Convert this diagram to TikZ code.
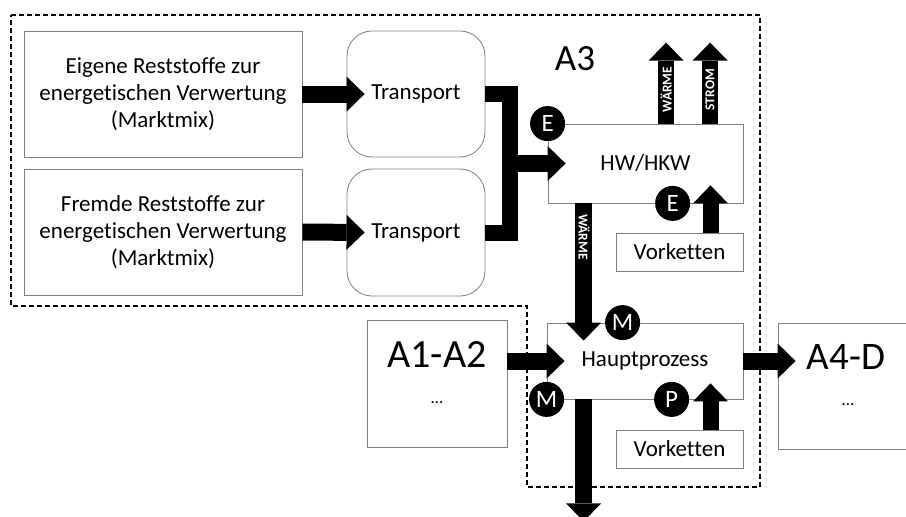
\documentclass[tikz,border=0pt]{standalone}
\usepackage{fontspec}
\setmainfont{Carlito}[Ligatures=NoCommon]
\usetikzlibrary{arrows.meta,calc}
\newcommand\myfs[2]{\fontsize{#1pt}{#2pt}\selectfont}
\definecolor{boxgray}{HTML}{808080}
\tikzset{
  box/.style={draw=boxgray, line width=0.8pt, fill=white, inner sep=0pt, align=center, font=\myfs{23}{27}},
  rbox/.style={box, rounded corners=25pt},
  blk/.style={draw=black, line width=17pt, -{Triangle[length=18pt,width=35pt,line width=0pt]}},
  sblk/.style={blk, line width=16pt},
  lbl/.style={text=white, font=\bfseries\myfs{13.5}{14}, inner sep=0pt},
  circ/.style={circle, fill=black, minimum size=35pt, inner sep=0pt, text=white, font=\myfs{25}{25}},
  zone/.style={draw=black, line width=1.1pt, dash pattern=on 5pt off 3pt},
}
\begin{document}
\begin{tikzpicture}[x=1pt,y=-1pt]
\clip (0,0) rectangle (906,517);
\fill[white] (0,0) rectangle (906,517);
% zone A3
\draw[zone] (11,15) -- (760,15) -- (760,487) -- (527,487) -- (527,306) -- (11,306) -- cycle;
% boxes
\node[box, minimum width=278pt, minimum height=126pt] (b1) at (163,94) {Eigene Reststoffe zur\\energetischen Verwertung\\(Marktmix)};
\node[box, minimum width=278pt, minimum height=126pt] (b2) at (163,232) {Fremde Reststoffe zur\\energetischen Verwertung\\(Marktmix)};
\node[rbox, minimum width=138pt, minimum height=126pt] (t1) at (416,94) {Transport};
\node[rbox, minimum width=138pt, minimum height=127pt] (t2) at (416,232.5) {Transport};
\node[box, minimum width=195pt, minimum height=79pt] (hw) at (645.5,163.5) {HW/HKW};
\node[box, minimum width=127pt, minimum height=38pt] (v1) at (679.5,252) {Vorketten};
\node[box, minimum width=196pt, minimum height=76pt] (hp) at (645,361) {Hauptprozess};
\node[box, minimum width=127pt, minimum height=38pt] (v2) at (679.5,449) {Vorketten};
\node[box, minimum width=140pt, minimum height=127pt] (a12) at (437,383.5) {};
\node[box, minimum width=140pt, minimum height=126pt] (a4d) at (848,386) {};
\node[font=\myfs{40}{40}, inner sep=0pt] (a12t) at (437,355) {A1-A2};
\node[font=\myfs{17}{17}, inner sep=0pt] (a12d) at (437,403) {…};
\node[font=\myfs{39}{39}, inner sep=0pt] (a4dt) at (846,357) {A4-D};
\node[font=\myfs{17}{17}, inner sep=0pt] (a4dd) at (848,405) {…};
\node[font=\myfs{37}{37}, inner sep=0pt] (a3) at (575,59) {A3};
% arrows
\draw[blk] (b1.east) -- ($(t1.west)+(18,0)$);
\draw[blk] (b2.east) -- ($(t2.west)+(18,0)$);
\coordinate (j1) at (509.5,94);
\coordinate (j2) at (509.5,163.5);
\draw[draw=black, line width=16pt, line join=miter] (t1.east) -- (j1) |- (t2.east);
\draw[blk] (j2) -- ($(hw.west)+(18,0)$);
\draw[sblk] ($(hw.north west)+(118.5,0)$) -- ++(0,-81);
\draw[sblk] ($(hw.north west)+(162.5,0)$) -- ++(0,-81);
\draw[sblk] ($(v1.north)+(31,0)$) -- ($(v1.north |- hw.south)+(31,-18)$);
\draw[blk] ($(hw.south west)+(36,0)$) -- ($(hw.south west |- hp.north)+(36,18)$);
\draw[blk] (a12.east |- hp.west) -- ($(hp.west)+(18,0)$);
\draw[blk] (hp.east) -- ($(a4d.west |- hp.east)+(18,0)$);
\draw[sblk] ($(v2.north)+(31,0)$) -- ($(v2.north |- hp.south)+(31,-16)$);
\draw[blk] ($(hp.south west)+(37,0)$) -- ++(0,122);
% arrow labels
\node[lbl, rotate=90] (lw1) at ($(hw.north west)+(118.5,-34)$) {WÄRME};
\node[lbl, rotate=90] (ls) at ($(hw.north west)+(162.5,-34)$) {STROM};
\node[lbl, rotate=-90] (lw2) at (584,237) {WÄRME};
% circles
\node[circ] (e1) at (hw.north west) {E};
\node[circ] (e2) at ($(hw.south west)+(125,0)$) {E};
\node[circ] (m1) at ($(hp.north west)+(76,0)$) {M};
\node[circ] (m2) at (hp.south west) {M};
\node[circ] (p1) at ($(hp.south west)+(125,0)$) {P};
\end{tikzpicture}
\end{document}
